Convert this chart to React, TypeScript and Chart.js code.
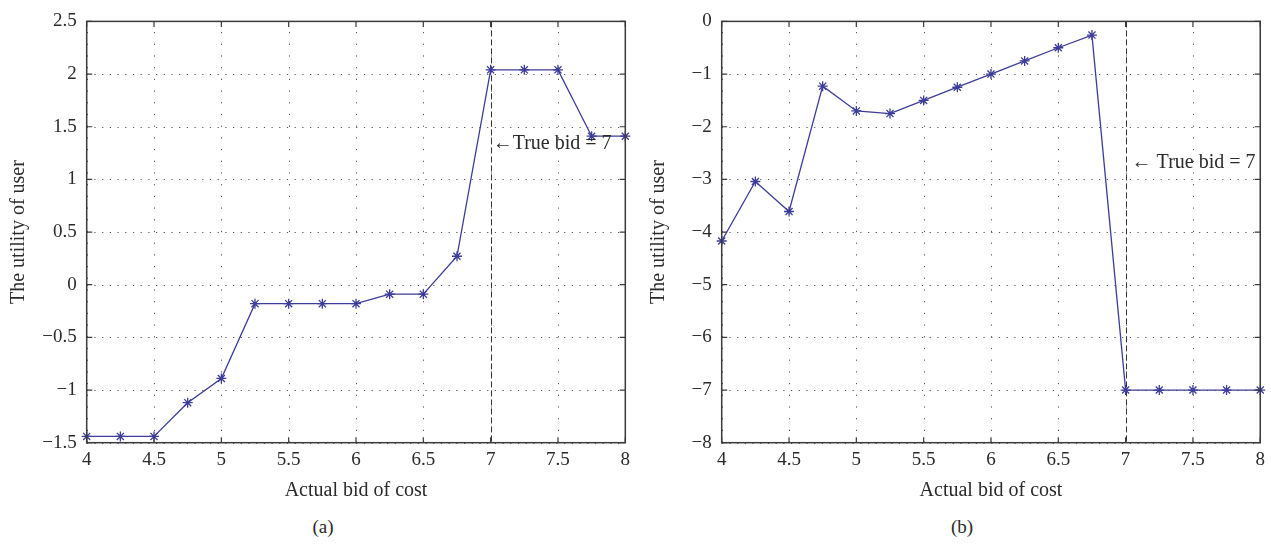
import { useEffect, useRef } from "react";
import { Chart, registerables } from "chart.js";

Chart.register(...registerables);

// ---- data ----
const bids = [4, 4.25, 4.5, 4.75, 5, 5.25, 5.5, 5.75, 6, 6.25, 6.5, 6.75, 7, 7.25, 7.5, 7.75, 8];
const utilityA = [-1.44, -1.44, -1.44, -1.12, -0.89, -0.18, -0.18, -0.18, -0.18, -0.09, -0.09, 0.27, 2.04, 2.04, 2.04, 1.41, 1.41];
const utilityB = [-4.17, -3.04, -3.61, -1.23, -1.7, -1.75, -1.5, -1.25, -1.0, -0.75, -0.5, -0.26, -7, -7, -7, -7, -7];
const xTicks = [4, 4.5, 5, 5.5, 6, 6.5, 7, 7.5, 8];
const yTicksA = [-1.5, -1, -0.5, 0, 0.5, 1, 1.5, 2, 2.5];
const yTicksB = [-8, -7, -6, -5, -4, -3, -2, -1, 0];
const TRUE_BID = 7;
const labelA = "\u2190True bid = 7";
const labelB = "\u2190 True bid = 7";
const labelPosA = { x: 7, y: 1.34, dx: 2 };
const labelPosB = { x: 7, y: -2.69, dx: 6 };

const FONT = "'Liberation Serif', 'Times New Roman', serif";
const LINE_COLOR = "#3c3c9a";
const TEXT_COLOR = "#2a2a2a";

const fmt = (v: number) => String(v).replace("-", "\u2212");

function frameplugin(label: string, pos: { x: number; y: number; dx: number }) {
  return {
    id: "matlabFrame",
    beforeDatasetsDraw(chart: any) {
      const { ctx, chartArea: a, scales } = chart;
      const xs = scales.x;
      const ys = scales.y;
      ctx.save();
      ctx.strokeStyle = "#555";
      ctx.lineWidth = 1;
      // vertical dotted grid
      ctx.setLineDash([1.2, 10.5]);
      xs.ticks.forEach((t: any) => {
        const px = Math.round(xs.getPixelForValue(t.value)) + 0.5;
        ctx.beginPath();
        ctx.moveTo(px, a.bottom);
        ctx.lineTo(px, a.top);
        ctx.stroke();
      });
      // horizontal dotted grid
      ctx.setLineDash([1.2, 6.5]);
      ys.ticks.forEach((t: any) => {
        const py = Math.round(ys.getPixelForValue(t.value)) + 0.5;
        ctx.beginPath();
        ctx.moveTo(a.left, py);
        ctx.lineTo(a.right, py);
        ctx.stroke();
      });
      // true-bid dashed line
      ctx.strokeStyle = "#333";
      ctx.setLineDash([6, 3]);
      const bx = Math.round(xs.getPixelForValue(TRUE_BID)) + 0.5;
      ctx.beginPath();
      ctx.moveTo(bx, a.top);
      ctx.lineTo(bx, a.bottom);
      ctx.stroke();
      ctx.restore();
    },
    afterDatasetsDraw(chart: any) {
      const { ctx, chartArea: a, scales } = chart;
      const xs = scales.x;
      const ys = scales.y;
      ctx.save();
      ctx.strokeStyle = "#3a3a3a";
      ctx.lineWidth = 1.5;
      ctx.setLineDash([]);
      ctx.strokeRect(a.left, a.top, a.right - a.left, a.bottom - a.top);
      ctx.lineWidth = 1.2;
      const tl = 5.5;
      xs.ticks.forEach((t: any) => {
        const px = xs.getPixelForValue(t.value);
        ctx.beginPath();
        ctx.moveTo(px, a.bottom);
        ctx.lineTo(px, a.bottom - tl);
        ctx.moveTo(px, a.top);
        ctx.lineTo(px, a.top + tl);
        ctx.stroke();
      });
      ys.ticks.forEach((t: any) => {
        const py = ys.getPixelForValue(t.value);
        ctx.beginPath();
        ctx.moveTo(a.left, py);
        ctx.lineTo(a.left + tl, py);
        ctx.moveTo(a.right, py);
        ctx.lineTo(a.right - tl, py);
        ctx.stroke();
      });
      // annotation
      ctx.fillStyle = TEXT_COLOR;
      ctx.font = `20px ${FONT}`;
      ctx.textAlign = "left";
      ctx.textBaseline = "middle";
      ctx.fillText(label, xs.getPixelForValue(pos.x) + pos.dx, ys.getPixelForValue(pos.y));
      ctx.restore();
    },
  };
}

function makeConfig(
  values: number[],
  yTicks: number[],
  label: string,
  pos: { x: number; y: number; dx: number },
  yWidth: number,
  padRight: number
): any {
  return {
    type: "line",
    data: {
      datasets: [
        {
          data: bids.map((b, i) => ({ x: b, y: values[i] })),
          borderColor: LINE_COLOR,
          borderWidth: 1.3,
          pointStyle: "star",
          pointRadius: 5,
          pointBorderColor: LINE_COLOR,
          pointBorderWidth: 1.3,
          pointBackgroundColor: LINE_COLOR,
          tension: 0,
          fill: false,
          clip: false,
        },
      ],
    },
    options: {
      responsive: false,
      animation: false,
      events: [],
      layout: { padding: { top: 16.7, right: padRight, left: 0, bottom: 0 } },
      plugins: { legend: { display: false }, tooltip: { enabled: false }, title: { display: false } },
      scales: {
        x: {
          type: "linear",
          min: 4,
          max: 8,
          grid: { display: false, drawTicks: false },
          border: { display: false },
          afterBuildTicks: (s: any) => {
            s.ticks = xTicks.map((v) => ({ value: v }));
          },
          afterFit: (s: any) => {
            s.height = 67.3;
          },
          ticks: {
            color: TEXT_COLOR,
            font: { family: FONT, size: 19 },
            padding: 6,
            maxRotation: 0,
            autoSkip: false,
            callback: (v: number) => fmt(v),
          },
          title: {
            display: true,
            text: "Actual bid of cost",
            color: TEXT_COLOR,
            font: { family: FONT, size: 20 },
            padding: { top: 0, bottom: 7 },
          },
        },
        y: {
          type: "linear",
          min: yTicks[0],
          max: yTicks[yTicks.length - 1],
          grid: { display: false, drawTicks: false },
          border: { display: false },
          afterBuildTicks: (s: any) => {
            s.ticks = yTicks.map((v) => ({ value: v }));
          },
          afterFit: (s: any) => {
            s.width = yWidth;
          },
          ticks: {
            color: TEXT_COLOR,
            font: { family: FONT, size: 19 },
            padding: 10,
            autoSkip: false,
            callback: (v: number) => fmt(v),
          },
          title: {
            display: true,
            text: "The utility of user",
            color: TEXT_COLOR,
            font: { family: FONT, size: 20 },
            padding: { top: 7, bottom: 0 },
          },
        },
      },
    },
    plugins: [frameplugin(label, pos)],
  };
}

function Panel(props: {
  values: number[];
  yTicks: number[];
  label: string;
  pos: { x: number; y: number; dx: number };
  left: number;
  width: number;
  yWidth: number;
  padRight: number;
}) {
  const ref = useRef<HTMLCanvasElement | null>(null);
  useEffect(() => {
    if (!ref.current) return;
    const chart = new Chart(
      ref.current,
      makeConfig(props.values, props.yTicks, props.label, props.pos, props.yWidth, props.padRight)
    );
    return () => chart.destroy();
  }, []);
  return (
    <canvas
      ref={ref}
      width={props.width}
      height={510}
      style={{ position: "absolute", left: props.left, top: 0, width: props.width, height: 510, display: "block" }}
    />
  );
}

const captionStyle = (cx: number): any => ({
  position: "absolute",
  left: cx - 50,
  width: 100,
  top: 516,
  lineHeight: "22px",
  textAlign: "center",
  fontFamily: FONT,
  fontSize: 19,
  color: TEXT_COLOR,
});

export default function App() {
  return (
    <div style={{ position: "fixed", left: 0, top: 0, width: 1271, height: 546, background: "#fff", overflow: "hidden" }}>
      <Panel values={utilityA} yTicks={yTicksA} label={labelA} pos={labelPosA} left={0} width={640} yWidth={86.7} padRight={14.7} />
      <Panel values={utilityB} yTicks={yTicksB} label={labelB} pos={labelPosB} left={640} width={631} yWidth={81.7} padRight={10.3} />
      <div style={captionStyle(323)}>(a)</div>
      <div style={captionStyle(962)}>(b)</div>
    </div>
  );
}
